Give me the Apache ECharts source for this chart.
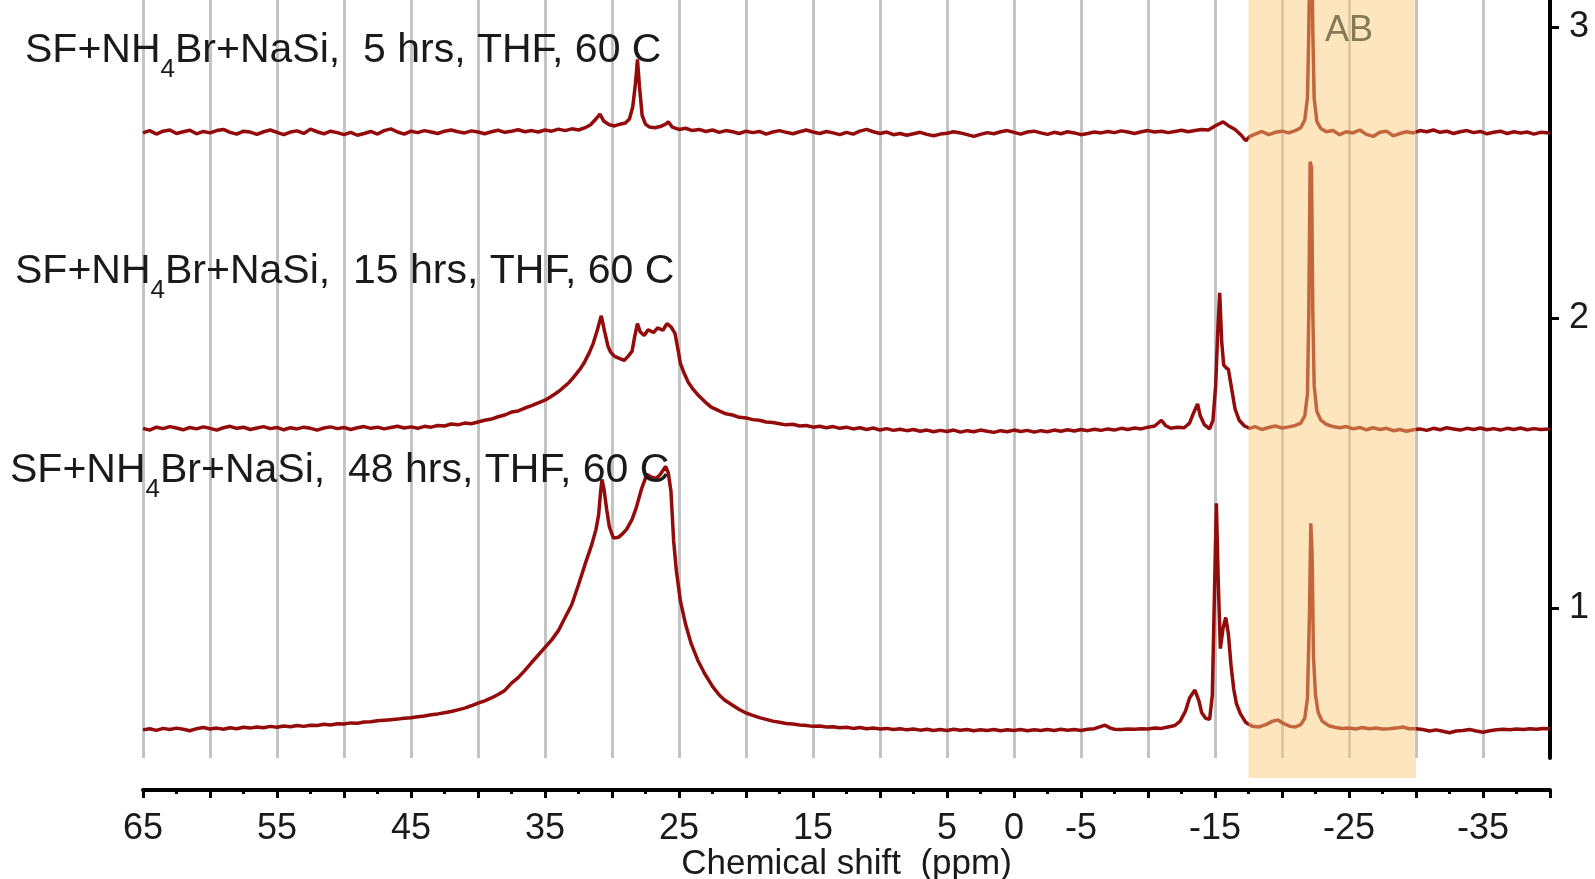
<!DOCTYPE html>
<html><head><meta charset="utf-8">
<script src="https://cdn.jsdelivr.net/npm/echarts@6/dist/echarts.min.js"></script>
<style>html,body{margin:0;padding:0;background:#fff;overflow:hidden}#c{width:1595px;height:879px}</style>
</head><body><div id="c"></div>
<script>
// ---- data ----
const xTickLabels = [65,55,45,35,25,15,5,0,-5,-15,-25,-35];
const yTickValues = [1,2,3];
const seriesNames = ['5 hrs','15 hrs','48 hrs'];
const offsets = [2.637, 1.617, 0.580];
const bandRange = [-17.5, -30];
const bandLabel = 'AB';
const bandLabelAt = -25;
const labelParts = [
  ['SF+NH','4','Br+NaSi,  5 hrs, THF, 60 C'],
  ['SF+NH','4','Br+NaSi,  15 hrs, THF, 60 C'],
  ['SF+NH','4','Br+NaSi,  48 hrs, THF, 60 C']
];
const trace5h = [[65,0],[64.5,0.008],[64,-0.004],[63.5,0.006],[63,0.01],[62.5,-0.002],[62,0.004],[61.5,0.009],[61,-0.003],[60.5,0.005],[60,0],[59.5,0.008],[59,0.012],[58.5,0.002],[58,-0.004],[57.5,0.006],[57,0.003],[56.5,-0.005],[56,0.004],[55.5,0.01],[55,0.002],[54.5,-0.006],[54,0.003],[53.5,0.007],[53,-0.002],[52.5,0.013],[52,0.004],[51.5,-0.003],[51,0.006],[50.5,0.001],[50,-0.006],[49.5,0.002],[49,-0.008],[48.5,-0.002],[48,0.005],[47.5,-0.004],[47,0.008],[46.5,0.014],[46,0.003],[45.5,-0.004],[45,0.006],[44.5,0.001],[44,0.008],[43.5,0.003],[43,-0.002],[42.5,0.006],[42,0.01],[41.5,0.004],[41,0],[40.5,0.007],[40,0.003],[39.5,-0.003],[39,0.004],[38.5,0.009],[38,0.002],[37.5,0.006],[37,0.011],[36.5,0.004],[36,0.008],[35.5,0.003],[35,0.01],[34.5,0.006],[34,0.013],[33.5,0.008],[33,0.014],[32.5,0.01],[32,0.018],[31.6,0.028],[31.2,0.048],[30.9,0.065],[30.6,0.04],[30.2,0.028],[29.8,0.024],[29.4,0.03],[29,0.034],[28.7,0.048],[28.45,0.09],[28.25,0.17],[28.1,0.253],[27.95,0.16],[27.75,0.06],[27.5,0.03],[27.2,0.02],[26.8,0.018],[26.4,0.022],[26,0.03],[25.8,0.038],[25.5,0.02],[25,0.012],[24.5,0.016],[24,0.008],[23.5,0.012],[23,0.005],[22.5,0.01],[22,0.002],[21.5,0.008],[21,0.004],[20.5,-0.002],[20,0.006],[19.5,0.001],[19,0.005],[18.5,-0.004],[18,0.003],[17.5,0.008],[17,0.002],[16.5,-0.003],[16,0.004],[15.5,0.01],[15,0.003],[14.5,-0.002],[14,0.005],[13.5,0],[13,-0.006],[12.5,0.002],[12,-0.004],[11.5,0.006],[11,0.012],[10.5,0.004],[10,-0.002],[9.5,0.003],[9,-0.006],[8.5,-0.002],[8,-0.008],[7.5,-0.003],[7,0.002],[6.5,-0.005],[6,-0.01],[5.5,-0.004],[5,-0.001],[4.5,0.004],[4,0],[3.5,-0.006],[3,-0.012],[2.5,-0.005],[2,0.001],[1.5,-0.003],[1,0.004],[0.5,0.008],[0,0.002],[-0.5,-0.004],[-1,0.003],[-1.5,0.006],[-2,0],[-2.5,-0.005],[-3,0.002],[-3.5,-0.003],[-4,0.004],[-4.5,0],[-5,-0.006],[-5.5,-0.002],[-6,0.003],[-6.5,0],[-7,0.005],[-7.5,0.001],[-8,0.007],[-8.5,0.003],[-9,-0.002],[-9.5,0.004],[-10,0.008],[-10.5,0.003],[-11,0.006],[-11.5,0.001],[-12,0.005],[-12.5,0.009],[-13,0.004],[-13.5,0.008],[-14,0.012],[-14.5,0.01],[-15,0.024],[-15.6,0.038],[-16,0.025],[-16.5,0.012],[-17,-0.01],[-17.3,-0.027],[-17.6,-0.012],[-18,-0.004],[-18.5,0.005],[-19,-0.006],[-19.5,0.002],[-20,0.006],[-20.5,0],[-21,0.008],[-21.4,0.018],[-21.7,0.045],[-21.9,0.12],[-22,0.35],[-22.1,0.7],[-22.2,0.72],[-22.3,0.35],[-22.4,0.12],[-22.6,0.04],[-22.9,0.015],[-23.3,0.004],[-23.8,0.008],[-24.3,-0.006],[-24.8,0.004],[-25.3,0],[-25.8,0.01],[-26.3,-0.005],[-26.8,-0.012],[-27.3,0.002],[-27.8,0.006],[-28.3,-0.01],[-28.8,-0.002],[-29.3,0.004],[-29.8,0],[-30.3,0.008],[-30.8,0.004],[-31.3,0.01],[-31.8,0.002],[-32.3,0.006],[-32.8,-0.002],[-33.3,0.004],[-33.8,0.008],[-34.3,0.001],[-34.8,0.005],[-35.3,-0.003],[-35.8,0.002],[-36.3,0.006],[-36.8,-0.002],[-37.3,0.004],[-37.8,0],[-38.3,0.003],[-38.8,-0.004],[-39.3,0.002],[-40,0]];
const trace15h = [[65,0.002],[64.5,-0.004],[64,0.006],[63.5,0.001],[63,0.008],[62.5,0.003],[62,-0.003],[61.5,0.005],[61,0],[60.5,0.007],[60,0.002],[59.5,-0.004],[59,0.004],[58.5,0.009],[58,0.002],[57.5,0.006],[57,-0.002],[56.5,0.003],[56,0.008],[55.5,0.001],[55,0.005],[54.5,-0.003],[54,0.004],[53.5,0],[53,0.006],[52.5,0.002],[52,-0.004],[51.5,0.003],[51,0.007],[50.5,0.001],[50,0.005],[49.5,-0.002],[49,0.004],[48.5,0.008],[48,0.002],[47.5,0.006],[47,0],[46.5,0.005],[46,0.009],[45.5,0.003],[45,0.007],[44.5,0.002],[44,0.009],[43.5,0.006],[43,0.012],[42.5,0.01],[42,0.017],[41.5,0.014],[41,0.02],[40.5,0.018],[40,0.024],[39.5,0.03],[39,0.034],[38.5,0.042],[38,0.048],[37.5,0.058],[37,0.062],[36.5,0.072],[36,0.08],[35.5,0.09],[35,0.099],[34.6,0.11],[34.2,0.122],[33.9,0.132],[33.6,0.144],[33.2,0.16],[32.8,0.182],[32.4,0.205],[32.1,0.226],[31.7,0.262],[31.4,0.295],[31.1,0.34],[30.8,0.39],[30.55,0.335],[30.3,0.285],[30.1,0.264],[29.8,0.25],[29.5,0.244],[29.1,0.236],[28.8,0.25],[28.5,0.268],[28.3,0.32],[28.1,0.363],[27.9,0.335],[27.6,0.322],[27.3,0.342],[26.9,0.332],[26.6,0.348],[26.2,0.34],[25.9,0.363],[25.6,0.352],[25.3,0.329],[25.1,0.28],[24.9,0.226],[24.6,0.19],[24.3,0.16],[24,0.14],[23.6,0.118],[23.1,0.095],[22.6,0.075],[22,0.062],[21.5,0.052],[21,0.048],[20.5,0.04],[20,0.038],[19.5,0.032],[19,0.03],[18.5,0.024],[18,0.022],[17.5,0.018],[17,0.014],[16.5,0.016],[16,0.01],[15.5,0.012],[15,0.006],[14.5,0.009],[14,0.004],[13.5,0.008],[13,0.002],[12.5,0.006],[12,0],[11.5,0.004],[11,-0.002],[10.5,0.003],[10,-0.004],[9.5,0.001],[9,-0.005],[8.5,-0.001],[8,-0.006],[7.5,-0.002],[7,-0.008],[6.5,-0.004],[6,-0.01],[5.5,-0.005],[5,-0.009],[4.5,-0.004],[4,-0.011],[3.5,-0.006],[3,-0.01],[2.5,-0.004],[2,-0.008],[1.5,-0.012],[1,-0.006],[0.5,-0.01],[0,-0.004],[-0.5,-0.009],[-1,-0.005],[-1.5,-0.011],[-2,-0.006],[-2.5,-0.01],[-3,-0.004],[-3.5,-0.008],[-4,-0.003],[-4.5,-0.007],[-5,-0.002],[-5.5,-0.006],[-6,-0.001],[-6.5,-0.005],[-7,0],[-7.5,-0.004],[-8,0.002],[-8.5,-0.002],[-9,0.003],[-9.5,0],[-10,0.006],[-10.5,0.01],[-11,0.03],[-11.3,0.012],[-11.7,0.002],[-12.2,0.006],[-12.7,0.004],[-13.1,0.02],[-13.4,0.055],[-13.7,0.086],[-13.9,0.045],[-14.2,0.015],[-14.6,0],[-14.85,0.03],[-15.05,0.15],[-15.2,0.33],[-15.35,0.469],[-15.5,0.3],[-15.65,0.22],[-15.85,0.21],[-16,0.205],[-16.2,0.15],[-16.5,0.068],[-16.8,0.03],[-17.2,0.01],[-17.6,0.002],[-18,0.008],[-18.5,-0.002],[-19,0.005],[-19.5,0.01],[-20,0.003],[-20.5,0.007],[-21,0.012],[-21.4,0.02],[-21.7,0.045],[-21.9,0.12],[-22,0.4],[-22.1,0.921],[-22.2,0.9],[-22.3,0.4],[-22.4,0.15],[-22.6,0.06],[-22.9,0.03],[-23.3,0.016],[-23.8,0.008],[-24.3,0.004],[-24.8,0.008],[-25.3,0],[-25.8,0.005],[-26.3,-0.003],[-26.8,0.004],[-27.3,-0.002],[-27.8,0.002],[-28.3,-0.006],[-28.8,-0.002],[-29.3,-0.008],[-29.8,-0.003],[-30.3,0],[-30.8,-0.005],[-31.3,0.002],[-31.8,-0.003],[-32.3,0.004],[-32.8,0],[-33.3,-0.004],[-33.8,0.002],[-34.3,-0.002],[-34.8,0.003],[-35.3,-0.003],[-35.8,0.001],[-36.3,-0.004],[-36.8,0.002],[-37.3,-0.002],[-37.8,0.003],[-38.3,-0.003],[-38.8,0.001],[-39.3,-0.002],[-40,0]];
const trace48h = [[65,0],[64.5,0.004],[64,-0.002],[63.5,0.005],[63,0.001],[62.5,0.006],[62,0.002],[61.5,-0.003],[61,0.004],[60.5,0.008],[60,0.003],[59.5,0.006],[59,0.002],[58.5,0.007],[58,0.004],[57.5,0.009],[57,0.006],[56.5,0.01],[56,0.007],[55.5,0.012],[55,0.009],[54.5,0.013],[54,0.011],[53.5,0.015],[53,0.012],[52.5,0.016],[52,0.015],[51.5,0.019],[51,0.017],[50.5,0.021],[50,0.02],[49.5,0.024],[49,0.023],[48.5,0.027],[48,0.028],[47.5,0.031],[47,0.033],[46.5,0.035],[46,0.037],[45.5,0.04],[45,0.042],[44.5,0.045],[44,0.048],[43.5,0.052],[43,0.055],[42.5,0.059],[42,0.063],[41.5,0.069],[41,0.075],[40.5,0.083],[40,0.092],[39.5,0.1],[39,0.11],[38.5,0.122],[38,0.136],[37.5,0.161],[37,0.18],[36.5,0.205],[36,0.232],[35.5,0.258],[35,0.284],[34.5,0.31],[34,0.342],[33.5,0.387],[33,0.432],[32.5,0.5],[32,0.572],[31.5,0.64],[31.2,0.69],[31,0.74],[30.85,0.82],[30.75,0.863],[30.6,0.83],[30.4,0.76],[30.2,0.7],[29.9,0.661],[29.5,0.664],[29.2,0.676],[28.9,0.692],[28.5,0.725],[28.2,0.764],[27.8,0.83],[27.4,0.88],[27.1,0.872],[26.7,0.866],[26.4,0.88],[26,0.908],[25.8,0.885],[25.6,0.822],[25.4,0.651],[25.2,0.55],[24.9,0.445],[24.5,0.362],[24.1,0.298],[23.6,0.24],[23.1,0.195],[22.5,0.15],[22,0.12],[21.6,0.103],[21,0.085],[20.5,0.07],[20,0.058],[19.5,0.05],[19,0.042],[18.5,0.036],[18,0.03],[17.5,0.026],[17,0.022],[16.5,0.02],[16,0.017],[15.5,0.015],[15,0.012],[14.5,0.013],[14,0.01],[13.5,0.011],[13,0.007],[12.5,0.009],[12,0.005],[11.5,0.008],[11,0.004],[10.5,0.006],[10,0.003],[9.5,0.005],[9,0.001],[8.5,0.004],[8,0],[7.5,0.003],[7,-0.001],[6.5,0.002],[6,-0.002],[5.5,0.001],[5,-0.002],[4.5,0.002],[4,-0.001],[3.5,0.001],[3,-0.003],[2.5,0],[2,-0.002],[1.5,0.001],[1,-0.003],[0.5,0],[0,-0.002],[-0.5,0.001],[-1,-0.003],[-1.5,0],[-2,-0.002],[-2.5,0.001],[-3,-0.002],[-3.5,0.002],[-4,-0.001],[-4.5,0.001],[-5,-0.002],[-5.5,0.002],[-6,0.004],[-6.5,0.012],[-6.8,0.016],[-7.2,0.006],[-7.5,0.002],[-8,0.001],[-8.5,0.003],[-9,0.002],[-9.5,0.004],[-10,0.003],[-10.5,0.006],[-11,0.005],[-11.5,0.01],[-12,0.015],[-12.4,0.03],[-12.8,0.065],[-13.1,0.11],[-13.5,0.137],[-13.8,0.1],[-14,0.06],[-14.3,0.04],[-14.6,0.036],[-14.8,0.12],[-14.95,0.45],[-15.1,0.781],[-15.25,0.5],[-15.4,0.28],[-15.6,0.35],[-15.8,0.387],[-16,0.33],[-16.2,0.22],[-16.4,0.14],[-16.6,0.09],[-16.9,0.055],[-17.3,0.025],[-17.8,0.012],[-18.3,0.01],[-18.8,0.018],[-19.3,0.03],[-19.7,0.034],[-20.1,0.022],[-20.6,0.012],[-21,0.01],[-21.4,0.018],[-21.7,0.04],[-21.9,0.11],[-22.05,0.4],[-22.15,0.712],[-22.25,0.6],[-22.35,0.25],[-22.5,0.12],[-22.7,0.06],[-23,0.03],[-23.5,0.014],[-24,0.008],[-24.5,0.005],[-25,0.006],[-25.5,0.003],[-26,0.008],[-26.5,0.004],[-27,0.006],[-27.5,0.003],[-28,0.004],[-28.5,0.006],[-29,0.01],[-29.5,0.004],[-30,0.004],[-30.5,0.001],[-31,-0.004],[-31.5,0],[-32,-0.005],[-32.5,-0.01],[-33,-0.004],[-33.5,-0.002],[-34,0.001],[-34.5,-0.004],[-35,-0.008],[-35.5,-0.003],[-36,0],[-36.5,0.002],[-37,0],[-37.5,0.003],[-38,0.001],[-38.5,0.004],[-39,0.002],[-39.5,0.005],[-40,0.004]];
const traces = [trace5h, trace15h, trace48h];

// ---- chart ----
const Y_MIN = 0.483, Y_MAX = 3.095;
const FONT = '"Liberation Sans", Arial, sans-serif';
const chart = echarts.init(document.getElementById('c'), null, {renderer: 'canvas', width: 1595, height: 879});

const lineSeries = traces.map((t, i) => ({
  type: 'line', name: seriesNames[i],
  data: t.map(p => [p[0], +(p[1] + offsets[i]).toFixed(4)]),
  showSymbol: false, symbol: 'none', smooth: false, clip: true,
  lineStyle: {color: '#930b0b', width: 3.5},
  z: 3, animation: false
}));

const bandSeries = {
  type: 'custom', name: bandLabel, z: 10, silent: true, animation: false,
  data: [[bandRange[0], bandRange[1]]],
  encode: {x: [0, 1]},
  renderItem: function (params, api) {
    const pA = api.coord([api.value(0), Y_MAX]);
    const pB = api.coord([api.value(1), Y_MIN]);
    const mid = api.coord([bandLabelAt, Y_MAX]);
    return {
      type: 'group',
      children: [
        {type: 'rect', shape: {x: pA[0], y: 0, width: pB[0] - pA[0], height: pB[1] + 20},
         style: {fill: 'rgba(251,203,118,0.48)'}},
        {type: 'text', x: mid[0], y: 31,
         style: {text: bandLabel, fill: '#857956', font: '36px ' + FONT, align: 'center', verticalAlign: 'middle'}}
      ]
    };
  }
};

const labelPos = [[25, 52], [15, 273], [10, 472]];
const graphics = labelParts.map((parts, i) => ({
  type: 'text', left: labelPos[i][0], top: labelPos[i][1] - 33, z: 20, silent: true,
  style: {
    text: '{n|' + parts[0] + '}{s|' + parts[1] + '}{n|' + parts[2] + '}',
    rich: {
      n: {fontSize: 41, fontFamily: FONT, fill: '#1a1a1a', lineHeight: 48, verticalAlign: 'middle'},
      s: {fontSize: 26, fontFamily: FONT, fill: '#1a1a1a', lineHeight: 28, verticalAlign: 'middle', padding: [38, 0, 0, 0]}
    }
  }
}));

chart.setOption({
  backgroundColor: '#ffffff',
  animation: false,
  textStyle: {fontFamily: FONT},
  grid: {left: 143, right: 45, top: 0, bottom: 121, containLabel: false, outerBoundsMode: 'none'},
  xAxis: {
    type: 'value', inverse: true, min: -40, max: 65, interval: 5,
    offset: 32,
    name: 'Chemical shift  (ppm)', nameLocation: 'middle', nameGap: 57, nameMoveOverlap: false,
    nameTextStyle: {fontSize: 35, color: '#1a1a1a', fontFamily: FONT},
    axisLine: {show: true, onZero: false, lineStyle: {color: '#000', width: 4}},
    axisTick: {show: true, length: 8, lineStyle: {color: '#000', width: 3}},
    minorTick: {show: true, splitNumber: 2, length: 4, lineStyle: {color: '#000', width: 3}},
    axisLabel: {
      fontSize: 36, color: '#1a1a1a', margin: 21, fontFamily: FONT,
      formatter: v => (xTickLabels.indexOf(v) >= 0 ? String(v) : '')
    },
    splitLine: {show: true, lineStyle: {color: '#c4c4c4', width: 3}}
  },
  yAxis: {
    type: 'value', position: 'right', min: Y_MIN, max: Y_MAX,
    axisLine: {show: true, onZero: false, lineStyle: {color: '#000', width: 4}},
    axisTick: {show: true, length: 9, inside: false, customValues: yTickValues, lineStyle: {color: '#000', width: 3}},
    axisLabel: {show: true, fontSize: 36, color: '#1a1a1a', margin: 19, customValues: yTickValues, fontFamily: FONT},
    splitLine: {show: false}
  },
  series: lineSeries.concat([bandSeries]),
  graphic: graphics
});
</script></body></html>
